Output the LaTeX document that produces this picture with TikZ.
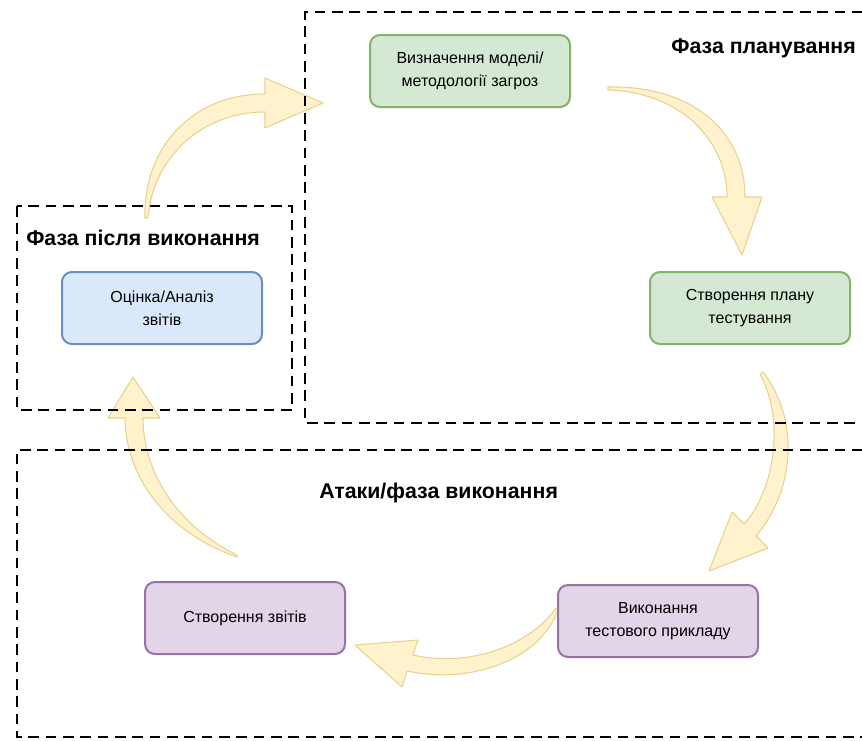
\documentclass[tikz,border=0pt]{standalone}
\usepackage{fontspec}
\setmainfont{Liberation Sans}
\definecolor{greenfill}{HTML}{D5E8D4}
\definecolor{greenline}{HTML}{82B366}
\definecolor{purplefill}{HTML}{E1D5E7}
\definecolor{purpleline}{HTML}{9673A6}
\definecolor{bluefill}{HTML}{DAE8FC}
\definecolor{blueline}{HTML}{6C8EBF}
\definecolor{arrowfill}{HTML}{FFF2CC}
\definecolor{arrowline}{HTML}{E8D28F}
\tikzset{
	stagebox/.style={rounded corners=7.5pt, line width=1.5pt, minimum width=150pt, minimum height=54pt, align=center, font=\fontsize{12}{17}\selectfont},
	phaseframe/.style={line width=1.1pt, dash pattern=on 8pt off 5pt},
	phasetitle/.style={font=\bfseries\fontsize{16}{19}\selectfont, inner sep=0pt},
	bendarrow/.style={fill=arrowfill, draw=arrowline, line width=0.8pt, line join=round}
}
\begin{document}
\begin{tikzpicture}[x=0.75pt, y=-0.75pt]
	\clip (0,0) rectangle (862,740);
	\draw[bendarrow] (145,218) .. controls (143,150) and (190,94) .. (265,94) -- (265,78) -- (323,103) -- (265,128) -- (265,112) .. controls (200,112) and (152,160) .. (148,218) -- cycle;
	\draw[bendarrow] (608,87) .. controls (690,85) and (745,130) .. (745,197) -- (762,197) -- (742,255) -- (712,197) -- (727,197) .. controls (727,140) and (680,92) .. (608,90) -- cycle;
	\draw[bendarrow] (763,372) .. controls (800,420) and (795,490) .. (756,536) -- (768,548) -- (709,571) -- (732,512) -- (744,524) .. controls (775,490) and (785,420) .. (760,374) -- cycle;
	\draw[bendarrow] (558,610) .. controls (540,660) and (470,685) .. (407,671) -- (402,687) -- (355,645) -- (418,640) -- (413,655) .. controls (470,668) and (530,645) .. (556,608) -- cycle;
	\draw[bendarrow] (237,557) .. controls (160,530) and (125,470) .. (125,418) -- (108,418) -- (133,377) -- (160,418) -- (143,418) .. controls (143,470) and (175,525) .. (237,555) -- cycle;
	\draw[phaseframe] (880,12) -- (305,12) -- (305,423) -- (880,423);
	\draw[phaseframe] (17,206) rectangle (292,410);
	\draw[phaseframe] (880,450) -- (17,450) -- (17,737) -- (880,737);
	\node[phasetitle, anchor=east] (planning) at (856,48) {Фаза планування};
	\node[phasetitle, anchor=west] (after) at (26,238) {Фаза після виконання};
	\node[phasetitle, anchor=west] (attack) at (319,493) {Атаки/фаза виконання};
	\node[stagebox, fill=greenfill, draw=greenline] (model) at (470,71) {Визначення моделі/\\методології загроз};
	\node[stagebox, fill=greenfill, draw=greenline] (plan) at (750,308) {Створення плану\\тестування};
	\node[stagebox, fill=purplefill, draw=purpleline] (run) at (658,621) {Виконання\\тестового прикладу};
	\node[stagebox, fill=purplefill, draw=purpleline] (reports) at (245,618) {Створення звітів};
	\node[stagebox, fill=bluefill, draw=blueline] (review) at (162,308) {Оцінка/Аналіз\\звітів};
\end{tikzpicture}
\end{document}
